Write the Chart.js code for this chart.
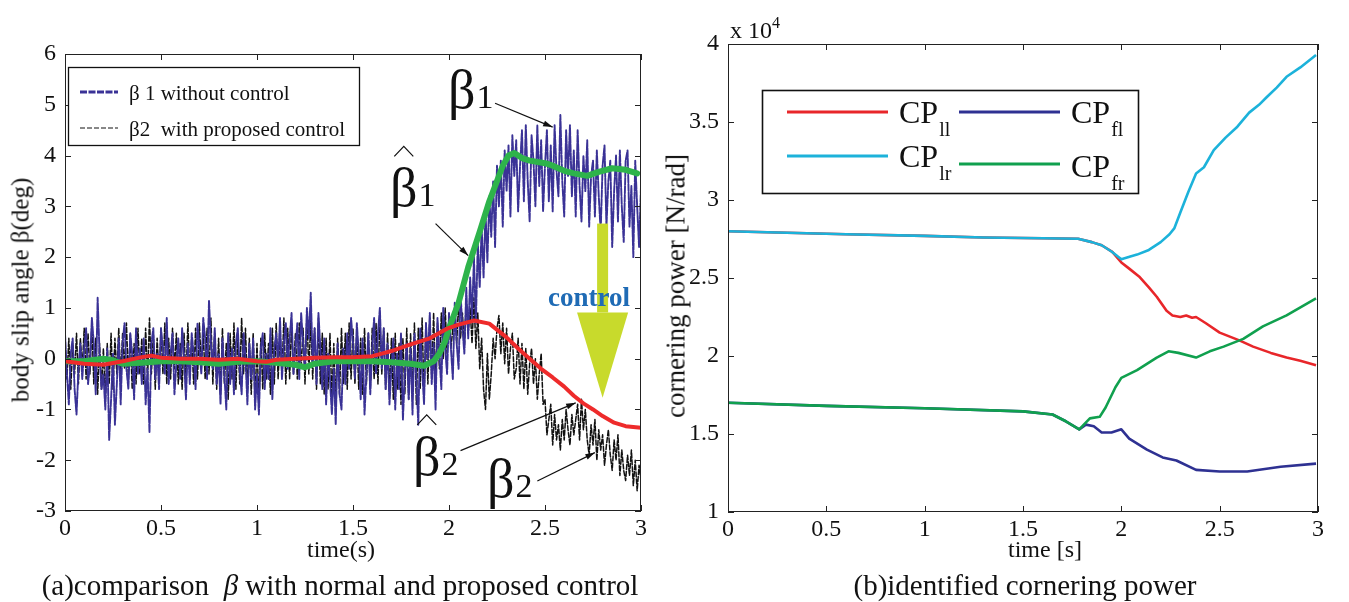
<!DOCTYPE html>
<html>
<head>
<meta charset="utf-8">
<script src="https://cdn.jsdelivr.net/npm/chart.js@4.4.1/dist/chart.umd.min.js"></script>
<style>
    html, body { margin: 0; padding: 0; background: #fff; }
    body { width: 1349px; height: 602px; position: relative; overflow: hidden;
           font-family: "Liberation Serif", "DejaVu Serif", serif; color: #111; }
    .panel { position: absolute; top: 0; }
    .txt { position: absolute; white-space: nowrap; line-height: 1; transform: translate(-50%, -50%); }
    .vert { transform: translate(-50%, -50%) rotate(-90deg); }
</style>
</head>
<body>
<canvas id="betaChart" class="panel" style="left:0" width="660" height="602"></canvas>
<canvas id="cpChart" class="panel" style="left:660px" width="689" height="602"></canvas>

<div class="txt vert" style="left:20px;top:290px;font-size:25px">body slip angle β(deg)</div>
<div class="txt" style="left:341px;top:549px;font-size:24px">time(s)</div>
<div class="txt" style="left:340px;top:585px;font-size:29px">(a)comparison&nbsp; <i>β</i> with normal and proposed control</div>

<div class="txt vert" style="left:676px;top:286px;font-size:27px">cornering power [N/rad]</div>
<div class="txt" style="left:1045px;top:549px;font-size:24px">time [s]</div>
<div class="txt" style="left:1025px;top:585px;font-size:29px">(b)identified cornering power</div>
<div class="txt" style="left:755px;top:28px;font-size:24px">x 10<sup style="font-size:16px;vertical-align:10px">4</sup></div>

<script>
/* ---------- data: (a) body slip angle ---------- */
const tStep = 0.01;   // sample spacing of the measured signals [s]

// beta1, without control (sampled every 0.01 s from 0 to 3 s)
const beta1 = [
    0.5, -0.3, -0.9, 0.1, 0.4, -0.6, -1.1, -0.2, 0.3, -0.4,
    0.2, 0.6, -0.5, -0.1, 0.8, 0.3, -0.7, 1.2, 0.1, -0.6,
    -0.3, -1.0, 0.2, -1.6, -0.8, 0.1, -1.3, -0.5, 0.4, -0.9,
    0.3, 0.7, -0.2, -0.6, 0.5, 0.1, -0.8, 0.6, -0.3, 0.2,
    -0.5, 0.4, -0.9, -0.2, -1.45, 0.3, 0.6, -0.4, 0.1, -0.6,
    0.6, 0.2, -0.3, 0.8, -0.5, 0.1, 0.5, -0.7, -0.1, 0.4,
    -0.4, 0.6, 0.0, -0.8, 0.3, -0.5, 0.5, 0.1, -0.6, 0.7,
    0.2, -0.3, 0.8, 0.4, -0.4, 1.15, 0.3, -0.2, 0.6, -0.5,
    0.1, -0.9, 0.4, -0.3, -1.0, 0.5, -0.5, 0.2, -0.7, 0.3,
    0.6, -0.2, -0.7, 0.5, 0.0, -0.9, 0.3, -0.4, 0.4, -1.0,
    -0.3, -1.1, 0.2, 0.5, -0.6, 0.1, -0.4, 0.6, -0.8, 0.2,
    0.5, -0.1, 0.8, -0.4, 0.3, 0.7, -0.2, 0.4, 0.9, -0.3,
    0.2, 0.7, -0.4, 0.9, 0.3, -0.2, 1.0, 0.4, 1.3, -0.1,
    0.6, -0.5, 0.9, 0.2, -0.6, 0.4, -0.9, 0.1, -0.4, -1.1,
    -0.2, -1.3, 0.3, -0.7, -1.0, 0.2, -0.5, 0.5, -0.2, 0.8,
    0.3, -0.4, 0.7, 0.1, -0.8, 0.4, -1.1, -0.3, 0.5, -0.7,
    0.2, 0.8, -0.3, 0.5, 1.0, -0.2, 0.6, -0.6, 0.3, -0.9,
    -0.2, 0.4, -1.0, 0.1, -0.6, 0.5, -1.2, -0.3, 0.3, -0.8,
    0.2, -1.1, 0.5, -0.4, -1.3, 0.6, -0.2, -0.9, 0.7, 0.0,
    0.9, -0.5, 0.3, -1.0, 0.8, 0.1, -0.6, 1.0, 0.2, -0.3,
    0.9, 0.2, -0.4, 1.1, 0.3, -0.2, 1.3, 0.6, 0.1, 1.4,
    0.4, 1.6, 0.8, 2.0, 0.7, 2.3, 1.4, 2.6, 1.6, 2.9,
    1.9, 3.2, 2.4, 3.5, 2.2, 3.8, 3.0, 3.9, 2.6, 4.1,
    3.3, 4.2, 2.8, 4.4, 3.6, 4.3, 2.9, 3.8, 4.5, 3.1,
    4.6, 3.5, 2.7, 4.4, 3.9, 3.0, 4.6, 3.4, 4.3, 2.9,
    3.8, 4.5, 3.1, 4.2, 2.9, 4.6, 3.7, 3.2, 4.8, 3.5,
    2.8, 4.5, 3.6, 4.6, 3.2, 4.1, 2.8, 4.5, 3.4, 2.7,
    4.0, 3.3, 4.3, 2.6, 3.6, 3.9, 2.8, 4.1, 3.2, 2.5,
    3.8, 4.2, 2.6, 3.5, 3.9, 2.2, 3.3, 4.0, 2.7, 4.1,
    3.0, 2.3, 3.9, 4.1, 2.6, 3.4, 2.0, 3.9, 3.0, 2.2,
    3.4
];

// beta2, with proposed control (same sampling)
const beta2 = [
    0.2, -0.4, 0.4, -0.6, 0.3, -0.3, 0.5, -0.5, 0.4, -0.2,
    0.6, -0.4, 0.5, -0.3, 0.7, -0.5, 0.4, -0.7, 0.3, -0.6,
    0.2, -0.8, 0.3, -0.5, 0.5, -0.6, 0.4, -0.3, 0.6, -0.4,
    0.5, -0.2, 0.7, -0.4, 0.5, -0.6, 0.3, -0.5, 0.6, -0.3,
    0.4, -0.5, 0.6, -0.4, 0.8, -0.3, 0.5, -0.6, 0.4, -0.4,
    0.6, -0.3, 0.7, -0.5, 0.4, -0.4, 0.6, -0.2, 0.5, -0.5,
    0.3, -0.6, 0.5, -0.4, 0.7, -0.3, 0.4, -0.5, 0.6, -0.4,
    0.7, -0.2, 0.5, -0.4, 0.6, -0.3, 0.8, -0.5, 0.5, -0.6,
    0.4, -0.7, 0.6, -0.5, 0.3, -0.8, 0.5, -0.4, 0.7, -0.6,
    0.5, -0.5, 0.8, -0.3, 0.6, -0.6, 0.4, -0.7, 0.5, -0.8,
    0.3, -0.9, 0.4, -0.6, 0.5, -0.4, 0.3, -0.7, 0.6, -0.5,
    0.7, -0.4, 0.5, -0.3, 0.8, -0.5, 0.6, -0.4, 0.7, -0.3,
    0.5, -0.4, 0.7, -0.2, 0.6, -0.5, 0.9, -0.3, 0.8, -0.4,
    0.6, -0.6, 0.8, -0.5, 0.5, -0.7, 0.4, -0.6, 0.5, -0.8,
    0.3, -0.9, 0.4, -0.7, 0.6, -0.5, 0.5, -0.6, 0.7, -0.4,
    0.6, -0.5, 0.5, -0.6, 0.4, -0.7, 0.6, -0.5, 0.5, -0.6,
    0.6, -0.4, 0.7, -0.5, 0.8, -0.3, 0.6, -0.6, 0.5, -0.7,
    0.4, -0.8, 0.5, -0.6, 0.3, -0.9, 0.4, -0.7, 0.6, -0.8,
    0.5, -0.7, 0.7, -0.9, 0.6, -0.6, 0.8, -0.8, 0.7, -0.5,
    0.8, -0.4, 0.9, -0.5, 0.7, -0.2, 0.9, 0.0, 1.0, 0.1,
    0.8, 0.2, 0.6, 1.0, 0.3, 1.1, 0.4, 0.9, 0.2, 1.15,
    0.5, 1.0, 0.3, 1.2, 0.2, 0.9, -0.2, 0.4, -0.6, -1.0,
    0.1, -0.8, -0.3, 0.4, 0.0, 0.6, 0.85, 0.1, 0.7, -0.1,
    0.6, -0.3, 0.2, 0.5, -0.4, -0.2, 0.4, -0.5, 0.3, -0.6,
    0.2, -0.7, -0.1, 0.2, -0.5, 0.0, -0.8, -0.3, 0.1, -0.9,
    -0.8, -1.5, -1.2, -0.9, -1.7, -1.1, -1.6, -1.3, -1.8, -1.2,
    -1.6, -1.0, -1.4, -1.7, -1.1, -1.5, -1.2, -0.9, -1.6, -0.8,
    -1.4, -1.0, -1.6, -1.9, -1.3, -1.7, -1.2, -2.0, -1.4, -1.8,
    -1.5, -2.1, -1.7, -1.4, -1.9, -2.2, -1.6, -2.0, -1.5, -2.3,
    -1.8, -2.2, -2.4, -1.9, -2.3, -1.8, -2.5, -2.0, -2.6, -2.1,
    -2.4
];

// estimated beta1 (green) and estimated beta2 (red)
const hat1T = [0, 0.1, 0.2, 0.25, 0.3, 0.4, 0.5, 0.6, 0.7, 0.8, 0.9, 1.0, 1.1, 1.2, 1.25, 1.3, 1.4, 1.5, 1.6, 1.7, 1.8, 1.87, 1.92, 1.95, 1.98, 2.0, 2.05, 2.1, 2.16, 2.21, 2.25, 2.28, 2.31, 2.34, 2.38, 2.42, 2.5, 2.54, 2.6, 2.65, 2.72, 2.78, 2.85, 2.92, 2.98];
const hat1V = [-0.05, -0.05, 0.0, -0.03, -0.1, -0.08, -0.05, -0.05, -0.07, -0.1, -0.06, -0.05, -0.08, -0.12, -0.17, -0.1, -0.05, -0.05, -0.05, -0.07, -0.1, -0.14, -0.05, 0.1, 0.35, 0.6, 1.1, 1.8, 2.5, 3.1, 3.5, 3.8, 4.0, 4.05, 3.95, 3.9, 3.85, 3.8, 3.7, 3.65, 3.6, 3.68, 3.75, 3.72, 3.65];
const hat2T = [0, 0.1, 0.2, 0.3, 0.4, 0.45, 0.5, 0.6, 0.7, 0.8, 0.9, 1.0, 1.05, 1.1, 1.2, 1.3, 1.4, 1.5, 1.6, 1.65, 1.7, 1.8, 1.9, 1.99, 2.05, 2.13, 2.21, 2.3, 2.36, 2.42, 2.48, 2.54, 2.6, 2.65, 2.7, 2.75, 2.8, 2.86, 2.92, 3.0];
const hat2V = [-0.05, -0.1, -0.12, -0.05, 0.03, 0.06, 0.02, 0.0, 0.0, -0.02, 0.0, -0.05, -0.06, -0.02, 0.0, 0.02, 0.03, 0.03, 0.05, 0.1, 0.15, 0.28, 0.4, 0.59, 0.67, 0.75, 0.69, 0.42, 0.2, 0.0, -0.2, -0.37, -0.55, -0.73, -0.88, -1.0, -1.13, -1.26, -1.33, -1.36];

/* ---------- data: (b) cornering power, x 10^4 N/rad ---------- */
const cpllT = [0, 0.3, 0.6, 1.0, 1.3, 1.6, 1.78, 1.85, 1.9, 1.954, 2.0, 2.04, 2.09, 2.14, 2.18, 2.23, 2.26, 2.3, 2.33, 2.36, 2.38, 2.43, 2.5, 2.6, 2.67, 2.76, 2.84, 2.91, 2.99];
const cpllV = [2.80, 2.79, 2.78, 2.77, 2.76, 2.755, 2.752, 2.73, 2.71, 2.667, 2.60, 2.56, 2.51, 2.44, 2.38, 2.29, 2.26, 2.25, 2.26, 2.245, 2.25, 2.21, 2.15, 2.10, 2.06, 2.02, 1.99, 1.97, 1.94];
const cpflT = [0, 0.5, 1.0, 1.5, 1.65, 1.72, 1.786, 1.82, 1.86, 1.90, 1.95, 2.0, 2.04, 2.13, 2.21, 2.28, 2.38, 2.5, 2.64, 2.81, 2.99];
const cpflV = [1.70, 1.68, 1.665, 1.645, 1.625, 1.58, 1.53, 1.56, 1.55, 1.51, 1.51, 1.53, 1.47, 1.40, 1.35, 1.33, 1.27, 1.26, 1.26, 1.29, 1.31];
const cplrT = [0, 0.3, 0.6, 1.0, 1.3, 1.6, 1.78, 1.85, 1.9, 1.95, 2.0, 2.05, 2.08, 2.14, 2.2, 2.245, 2.27, 2.3, 2.34, 2.38, 2.42, 2.47, 2.53, 2.59, 2.65, 2.7, 2.74, 2.79, 2.84, 2.91, 2.99];
const cplrV = [2.80, 2.79, 2.78, 2.77, 2.76, 2.755, 2.752, 2.73, 2.71, 2.67, 2.62, 2.64, 2.65, 2.68, 2.73, 2.78, 2.82, 2.92, 3.05, 3.17, 3.21, 3.32, 3.40, 3.47, 3.56, 3.61, 3.66, 3.72, 3.79, 3.85, 3.93];
const cpfrT = [0, 0.5, 1.0, 1.5, 1.65, 1.72, 1.786, 1.84, 1.89, 1.92, 1.97, 2.0, 2.08, 2.13, 2.18, 2.24, 2.29, 2.38, 2.45, 2.52, 2.62, 2.72, 2.84, 2.99];
const cpfrV = [1.70, 1.68, 1.665, 1.645, 1.625, 1.58, 1.53, 1.60, 1.61, 1.67, 1.80, 1.86, 1.91, 1.95, 1.99, 2.03, 2.02, 1.99, 2.03, 2.06, 2.11, 2.19, 2.26, 2.37];
const cpSubs = ['ll', 'fl', 'lr', 'fr'];

/* ---------- helpers ---------- */
const FONT = '"Liberation Serif", "DejaVu Serif", serif';
Chart.defaults.font.family = FONT;
Chart.defaults.color = '#111';

const pts = (ts, vs) => ts.map((t, i) => ({ x: t, y: vs[i] }));
const sampled = vs => vs.map((v, i) => ({ x: +(i * tStep).toFixed(2), y: v }));
const plainTick = v => String(Math.round(v * 100) / 100);

function arrow(ctx, x1, y1, x2, y2, head) {
    ctx.beginPath(); ctx.moveTo(x1, y1); ctx.lineTo(x2, y2); ctx.stroke();
    const a = Math.atan2(y2 - y1, x2 - x1);
    ctx.beginPath();
    ctx.moveTo(x2, y2);
    ctx.lineTo(x2 - head * Math.cos(a - 0.3), y2 - head * Math.sin(a - 0.3));
    ctx.lineTo(x2 - head * Math.cos(a + 0.3), y2 - head * Math.sin(a + 0.3));
    ctx.closePath(); ctx.fill();
}

// MATLAB style box with inward ticks
const framePlugin = {
    id: 'frame',
    afterDatasetsDraw(chart) {
        const { ctx, chartArea: a, scales } = chart;
        ctx.save();
        ctx.strokeStyle = '#222'; ctx.lineWidth = 1;
        ctx.strokeRect(a.left + 0.5, a.top + 0.5, a.right - a.left - 1, a.bottom - a.top - 1);
        ctx.beginPath();
        scales.x.ticks.forEach(t => {
            const x = Math.round(scales.x.getPixelForValue(t.value)) + 0.5;
            ctx.moveTo(x, a.bottom); ctx.lineTo(x, a.bottom - 6);
            ctx.moveTo(x, a.top); ctx.lineTo(x, a.top + 6);
        });
        scales.y.ticks.forEach(t => {
            const y = Math.round(scales.y.getPixelForValue(t.value)) + 0.5;
            ctx.moveTo(a.left, y); ctx.lineTo(a.left + 6, y);
            ctx.moveTo(a.right, y); ctx.lineTo(a.right - 6, y);
        });
        ctx.stroke();
        ctx.restore();
    }
};

const linearAxes = (ymin, ymax, ystep, yWidth) => ({
    x: {
        type: 'linear', min: 0, max: 3,
        ticks: { stepSize: 0.5, autoSkip: false, maxRotation: 0, padding: 3, font: { size: 24 }, callback: plainTick },
        grid: { display: false, drawTicks: false }, border: { display: false },
        afterFit: s => { s.height = 40; }
    },
    y: {
        type: 'linear', min: ymin, max: ymax,
        ticks: { stepSize: ystep, padding: 9, font: { size: 24 }, callback: plainTick },
        grid: { display: false, drawTicks: false }, border: { display: false },
        afterFit: s => { s.width = yWidth; }
    }
});

/* ---------- (a) annotations ---------- */
const betaLabels = [
    { t: 1.995, v: 4.93, sub: '1', hat: false },
    { t: 1.693, v: 3.00, sub: '1', hat: true },
    { t: 1.8125, v: -2.29, sub: '2', hat: true },
    { t: 2.198, v: -2.72, sub: '2', hat: false }
];
const betaArrows = [
    [2.24, 5.03, 2.54, 4.56],
    [1.93, 2.66, 2.10, 2.03],
    [2.06, -1.81, 2.66, -0.87],
    [2.46, -2.41, 2.76, -1.85]
];
const controlArrow = { t: 2.80, top: 2.66, base: 0.91, tip: -0.77, halfW: 0.133 };
const controlText = { t: 2.516, v: 1.045, text: 'control' };

const betaPlugin = {
    id: 'betaNotes',
    afterDatasetsDraw(chart) {
        const { ctx, chartArea: a, scales: { x, y } } = chart;
        ctx.save();

        // big control arrow
        const cx = x.getPixelForValue(controlArrow.t);
        const hw = x.getPixelForValue(controlArrow.t + controlArrow.halfW) - cx;
        ctx.fillStyle = '#c8da2c';
        ctx.fillRect(cx - 5.5, y.getPixelForValue(controlArrow.top), 11,
            y.getPixelForValue(controlArrow.base) - y.getPixelForValue(controlArrow.top));
        ctx.beginPath();
        ctx.moveTo(cx - hw, y.getPixelForValue(controlArrow.base));
        ctx.lineTo(cx + hw, y.getPixelForValue(controlArrow.base));
        ctx.lineTo(cx, y.getPixelForValue(controlArrow.tip));
        ctx.closePath(); ctx.fill();

        ctx.fillStyle = '#1f6bb5';
        ctx.font = 'bold 27px ' + FONT;
        ctx.textBaseline = 'alphabetic';
        ctx.fillText(controlText.text, x.getPixelForValue(controlText.t), y.getPixelForValue(controlText.v));

        // thin pointer arrows
        ctx.strokeStyle = '#111'; ctx.fillStyle = '#111'; ctx.lineWidth = 1.2;
        betaArrows.forEach(p => arrow(ctx, x.getPixelForValue(p[0]), y.getPixelForValue(p[1]),
            x.getPixelForValue(p[2]), y.getPixelForValue(p[3]), 10));

        // beta symbols
        betaLabels.forEach(l => {
            const px = x.getPixelForValue(l.t), py = y.getPixelForValue(l.v);
            ctx.font = '54px ' + FONT;
            ctx.fillText('β', px, py);
            const w = ctx.measureText('β').width;
            ctx.font = '34px ' + FONT;
            ctx.fillText(l.sub, px + w + 1, py);
            if (l.hat) {
                const hc = px + w / 2;
                ctx.lineWidth = 1.2;
                ctx.beginPath();
                ctx.moveTo(hc - 9.5, py - 50); ctx.lineTo(hc, py - 60); ctx.lineTo(hc + 9.5, py - 50);
                ctx.stroke();
            }
        });

        // legend box
        const lx = a.left + 3, ly = a.top + 13;
        ctx.fillStyle = '#fff';
        ctx.fillRect(lx, ly, 291, 78);
        ctx.strokeStyle = '#111'; ctx.lineWidth = 1.3;
        ctx.strokeRect(lx + 0.5, ly + 0.5, 291, 78);
        const items = chart.data.datasets.filter(d => d.legendRow !== undefined);
        items.forEach(d => {
            const ry = ly + 25 + d.legendRow * 36;
            ctx.strokeStyle = d.borderColor;
            ctx.lineWidth = d.legendWidth;
            ctx.setLineDash(d.borderDash);
            ctx.beginPath(); ctx.moveTo(lx + 12, ry); ctx.lineTo(lx + 50, ry); ctx.stroke();
            ctx.setLineDash([]);
            ctx.fillStyle = '#111';
            ctx.font = '21px ' + FONT;
            ctx.fillText(d.label, lx + 61, ry + 8);
        });
        ctx.restore();
    }
};

new Chart(document.getElementById('betaChart'), {
    type: 'line',
    data: {
        datasets: [
            { label: 'β 1 without control', data: sampled(beta1), borderColor: '#3a3296', borderWidth: 1.9,
              borderDash: [7, 1.5], legendWidth: 2.8, legendRow: 0, order: 3 },
            { label: 'β2  with proposed control', data: sampled(beta2), borderColor: '#111', borderWidth: 1.5,
              borderDash: [5, 2], legendWidth: 1, legendRow: 1, order: 4 },
            { label: 'beta1 estimate', data: pts(hat1T, hat1V), borderColor: '#2eb34b', borderWidth: 6,
              borderDash: [], order: 2 },
            { label: 'beta2 estimate', data: pts(hat2T, hat2V), borderColor: '#ee2b2b', borderWidth: 4,
              borderDash: [], order: 1 }
        ]
    },
    options: {
        responsive: false, animation: false, devicePixelRatio: 1,
        parsing: false, normalized: true,
        elements: { point: { radius: 0 }, line: { tension: 0, borderCapStyle: 'round', borderJoinStyle: 'round' } },
        layout: { padding: { top: 54, right: 19, bottom: 51, left: 0 } },
        plugins: { legend: { display: false }, tooltip: { enabled: false } },
        scales: linearAxes(-3, 6, 1, 65)
    },
    plugins: [framePlugin, betaPlugin]
});

/* ---------- (b) cornering power ---------- */
const cpLegendPlugin = {
    id: 'cpLegend',
    afterDatasetsDraw(chart) {
        const { ctx, chartArea: a } = chart;
        const bx = a.left + 34, by = a.top + 46;
        ctx.save();
        ctx.fillStyle = '#fff';
        ctx.fillRect(bx, by, 376, 103);
        ctx.strokeStyle = '#111'; ctx.lineWidth = 1.6;
        ctx.strokeRect(bx + 0.5, by + 0.5, 376, 103);
        // [column, line y, text baseline] in legend order
        const slots = [[0, 22, 33], [1, 22, 33], [0, 66, 77], [1, 74, 87]];
        chart.data.datasets.forEach(d => {
            const s = slots[d.legendSlot];
            const x0 = bx + 25 + s[0] * 172;
            ctx.strokeStyle = d.borderColor; ctx.lineWidth = 3;
            ctx.beginPath(); ctx.moveTo(x0, by + s[1]); ctx.lineTo(x0 + 101, by + s[1]); ctx.stroke();
            ctx.fillStyle = '#111';
            ctx.font = '32px ' + FONT;
            ctx.fillText(d.label, x0 + 112, by + s[2]);
            const w = ctx.measureText(d.label).width;
            ctx.font = '20px ' + FONT;
            ctx.fillText(d.sub, x0 + 113 + w, by + s[2] + 13);
        });
        ctx.restore();
    }
};

new Chart(document.getElementById('cpChart'), {
    type: 'line',
    data: {
        datasets: [
            { label: 'CP', sub: cpSubs[0], legendSlot: 0, data: pts(cpllT, cpllV), borderColor: '#e8262a', order: 3 },
            { label: 'CP', sub: cpSubs[1], legendSlot: 1, data: pts(cpflT, cpflV), borderColor: '#2e3192', order: 4 },
            { label: 'CP', sub: cpSubs[2], legendSlot: 2, data: pts(cplrT, cplrV), borderColor: '#1cb2da', order: 1 },
            { label: 'CP', sub: cpSubs[3], legendSlot: 3, data: pts(cpfrT, cpfrV), borderColor: '#10a04e', order: 2 }
        ]
    },
    options: {
        responsive: false, animation: false, devicePixelRatio: 1,
        parsing: false,
        elements: { point: { radius: 0 }, line: { tension: 0, borderWidth: 2.6, borderJoinStyle: 'round' } },
        layout: { padding: { top: 44, right: 31, bottom: 50, left: 0 } },
        plugins: { legend: { display: false }, tooltip: { enabled: false } },
        scales: linearAxes(1, 4, 0.5, 68)
    },
    plugins: [framePlugin, cpLegendPlugin]
});
</script>
</body>
</html>
